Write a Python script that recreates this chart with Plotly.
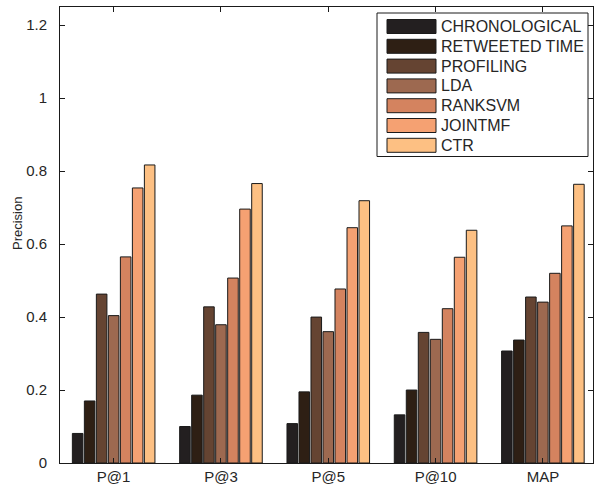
import plotly.graph_objects as go

categories = ["P@1", "P@3", "P@5", "P@10", "MAP"]
series_names = ["CHRONOLOGICAL", "RETWEETED TIME", "PROFILING", "LDA",
                "RANKSVM", "JOINTMF", "CTR"]
chronological = [0.081, 0.100, 0.108, 0.132, 0.307]
retweeted_time = [0.170, 0.186, 0.195, 0.200, 0.337]
profiling = [0.463, 0.428, 0.400, 0.358, 0.455]
lda = [0.404, 0.379, 0.360, 0.339, 0.441]
ranksvm = [0.565, 0.507, 0.477, 0.423, 0.520]
jointmf = [0.754, 0.696, 0.645, 0.564, 0.650]
ctr = [0.817, 0.766, 0.719, 0.638, 0.764]
series_values = [chronological, retweeted_time, profiling, lda, ranksvm, jointmf, ctr]
colors = ["#231f20", "#2e1f14", "#654432", "#9d6950", "#d4835f", "#f5a172", "#fdc083"]
y_ticks = [0, 0.2, 0.4, 0.6, 0.8, 1.0, 1.2]
y_tick_labels = ["0", "0.2", "0.4", "0.6", "0.8", "1", "1.2"]

W, H = 594, 486
L, R, T, B = 60, 1, 7, 23
PW, PH = W - L - R, H - T - B

def px2x(px):
    return (px - L) / PW

def px2y(py):
    return (H - B - py) / PH

FONT = "Liberation Sans, Arial, Helvetica, sans-serif"
TXT = "#262626"

fig = go.Figure()
for name, vals, col in zip(series_names, series_values, colors):
    fig.add_trace(go.Bar(
        x=categories, y=vals, name=name,
        marker=dict(color=col, line=dict(color="#1a1a1a", width=1)),
        showlegend=False,
    ))

shapes = []
annotations = []
# legend box
shapes.append(dict(type="rect", xref="paper", yref="paper",
                   x0=px2x(377), x1=px2x(588), y0=px2y(156.5), y1=px2y(13),
                   line=dict(color="#1a1a1a", width=1), fillcolor="white", layer="above"))
for i, (name, col) in enumerate(zip(series_names, colors)):
    cy = 26.5 + i * 19.8
    shapes.append(dict(type="rect", xref="paper", yref="paper",
                       x0=px2x(387), x1=px2x(436), y0=px2y(cy + 7), y1=px2y(cy - 7),
                       line=dict(color="#1a1a1a", width=1), fillcolor=col, layer="above"))
    annotations.append(dict(xref="paper", yref="paper", x=px2x(439), y=px2y(cy),
                            xanchor="left", yanchor="middle", showarrow=False,
                            text=name, font=dict(family=FONT, size=16, color=TXT)))

annotations.append(dict(xref="paper", yref="paper", x=px2x(17), y=px2y(224),
                        xanchor="center", yanchor="middle", showarrow=False,
                        text="Precision", textangle=-90,
                        font=dict(family=FONT, size=13, color=TXT)))

fig.update_layout(
    width=W, height=H,
    margin=dict(l=L, r=R, t=T, b=B, pad=0, autoexpand=False),
    paper_bgcolor="white", plot_bgcolor="white",
    barmode="group", bargap=0.217, bargroupgap=0.12,
    font=dict(family=FONT, color=TXT),
    shapes=shapes, annotations=annotations,
    xaxis=dict(type="category", range=[-0.5, 4.467], showline=True,
               linecolor="#1a1a1a", linewidth=1, mirror="ticks",
               ticks="inside", ticklen=5, tickcolor="#1a1a1a",
               showgrid=False, zeroline=False, automargin=False,
               tickfont=dict(family=FONT, size=15, color=TXT)),
    yaxis=dict(range=[0, 1.25], tickvals=y_ticks, ticktext=y_tick_labels,
               showline=True, linecolor="#1a1a1a", linewidth=1, mirror="ticks",
               ticks="inside", ticklen=5, tickcolor="#1a1a1a",
               showgrid=False, zeroline=False, ticklabelstandoff=9,
               automargin=False,
               tickfont=dict(family=FONT, size=15, color=TXT)),
)

fig.write_html("out.html", config={"displayModeBar": False},
               post_script="document.body.style.margin='0';document.body.style.overflow='hidden';")
